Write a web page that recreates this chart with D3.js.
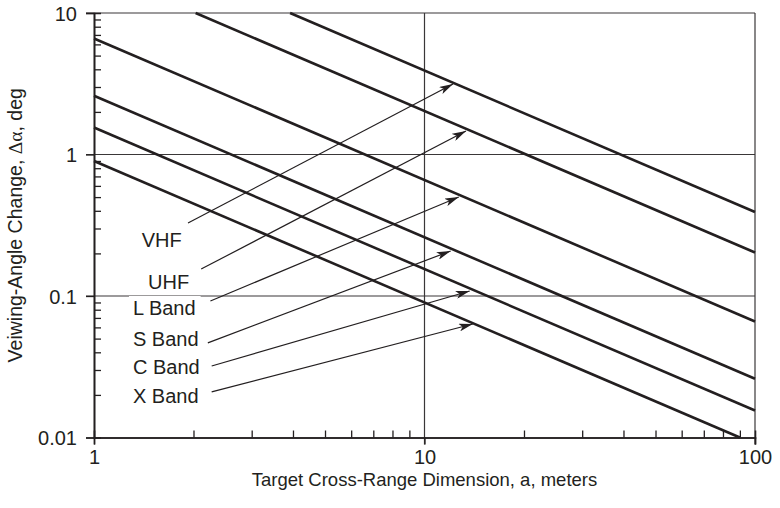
<!DOCTYPE html>
<html>
<head>
<meta charset="utf-8">
<script src="https://cdn.jsdelivr.net/npm/d3@7"></script>
<style>
  body { margin: 0; background: #fff; }
  text { font-family: "Liberation Sans", Arial, sans-serif; fill: #231f20; }
</style>
</head>
<body>
<div id="chart"></div>
<script>
// DATA
const bands = ["VHF", "UHF", "L Band", "S Band", "C Band", "X Band"];
// each band line is straight on log-log axes: start / end points
const lineStart = [[3.92, 10], [2.03, 10], [1, 6.6], [1, 2.6], [1, 1.55], [1, 0.9]];
const lineEnd = [[100, 0.392], [100, 0.203], [100, 0.066], [100, 0.026], [100, 0.0155], [90, 0.01]];
// callout arrows, tail near the label, tip on the line
const arrowTail = [[1.925, 0.328], [2.11, 0.155], [2.25, 0.0922], [2.21, 0.0466], [2.27, 0.032], [2.27, 0.021]];
const arrowTip = [[12.2, 3.15], [13.35, 1.466], [12.7, 0.501], [12.0, 0.208], [13.7, 0.1085], [14.0, 0.0634]];
const labelAt = [[1.394, 0.223], [1.457, 0.112], [1.312, 0.0734], [1.312, 0.0446], [1.312, 0.0281], [1.312, 0.0176]];

const xMajor = [1, 10, 100];
const xMajorLabels = ["1", "10", "100"];
const xMinor = [2, 3, 4, 5, 6, 7, 8, 9, 20, 30, 40, 50, 60, 70, 80, 90];
const yMajor = [0.01, 0.1, 1, 10];
const yMajorLabels = ["0.01", "0.1", "1", "10"];
const yMinor = [0.02, 0.03, 0.04, 0.05, 0.06, 0.07, 0.08, 0.09,
                0.2, 0.3, 0.4, 0.5, 0.6, 0.7, 0.8, 0.9,
                2, 3, 4, 5, 6, 7, 8, 9];

// CONSTANTS
const width = 780, height = 508;
const margin = {top: 13, right: 25, bottom: 70.5, left: 94};
const ink = "#231f20";

// SCALES
const xScale = d3.scaleLog()
    .domain([1, 100])
    .range([margin.left, width - margin.right]);

const yScale = d3.scaleLog()
    .domain([0.01, 10])
    .range([height - margin.bottom, margin.top]);

// SVG
const svg = d3.select("#chart")
    .append("svg")
    .attr("width", width)
    .attr("height", height);

const defs = svg.append("defs");
defs.append("marker")
    .attr("id", "head")
    .attr("viewBox", "0 0 14 8")
    .attr("refX", 14)
    .attr("refY", 4)
    .attr("markerWidth", 14)
    .attr("markerHeight", 8)
    .attr("markerUnits", "userSpaceOnUse")
    .attr("orient", "auto")
    .append("path")
    .attr("d", "M0,0 L14,4 L0,8 L3.5,4 Z")
    .attr("fill", ink);

// GRID (inner lines + frame top / right)
const grid = svg.append("g").attr("stroke", "#3a3738").attr("stroke-width", 1.2);
grid.selectAll("line.h")
    .data([0.1, 1, 10])
    .join("line")
    .attr("class", "h")
    .attr("x1", xScale(1) - 8)
    .attr("x2", xScale(100))
    .attr("y1", d => yScale(d))
    .attr("y2", d => yScale(d));
grid.selectAll("line.v")
    .data([10, 100])
    .join("line")
    .attr("class", "v")
    .attr("x1", d => xScale(d))
    .attr("x2", d => xScale(d))
    .attr("y1", yScale(10))
    .attr("y2", yScale(0.01) + 7);

// AXES
const xAxis = d3.axisBottom(xScale)
    .tickValues(xMajor)
    .tickFormat((d, i) => xMajorLabels[i])
    .tickSize(7)
    .tickPadding(5);
const xMinorAxis = d3.axisTop(xScale).tickValues(xMinor).tickFormat("").tickSize(7);

const yAxis = d3.axisLeft(yScale)
    .tickValues(yMajor)
    .tickFormat((d, i) => yMajorLabels[i])
    .tickSize(8)
    .tickPadding(9);
const yMinorAxis = d3.axisRight(yScale).tickValues(yMinor).tickFormat("").tickSize(7);

const xAxisGroup = svg.append("g")
    .attr("transform", `translate(0, ${yScale(0.01)})`)
    .call(xAxis);
svg.append("g")
    .attr("transform", `translate(0, ${yScale(0.01)})`)
    .call(xMinorAxis);
const yAxisGroup = svg.append("g")
    .attr("transform", `translate(${xScale(1)}, 0)`)
    .call(yAxis);
svg.append("g")
    .attr("transform", `translate(${xScale(1)}, 0)`)
    .call(yMinorAxis);

svg.selectAll(".domain").attr("stroke", ink).attr("stroke-width", 1.6);
svg.selectAll(".tick line").attr("stroke", ink).attr("stroke-width", 1.3);
svg.selectAll(".tick text")
    .style("font-family", "'Liberation Sans', Arial, sans-serif")
    .style("font-size", "20px")
    .attr("fill", ink);
yAxisGroup.selectAll(".tick text").attr("dy", "0.36em");

// BAND LINES
svg.selectAll("line.band")
    .data(bands)
    .join("line")
    .attr("class", "band")
    .attr("x1", (d, i) => xScale(lineStart[i][0]))
    .attr("y1", (d, i) => yScale(lineStart[i][1]))
    .attr("x2", (d, i) => xScale(lineEnd[i][0]))
    .attr("y2", (d, i) => yScale(lineEnd[i][1]))
    .attr("stroke", ink)
    .attr("stroke-width", 2.6);

// LABELS with white backing
const labels = svg.selectAll("g.label")
    .data(bands)
    .join("g")
    .attr("class", "label");
labels.append("text")
    .attr("x", (d, i) => xScale(labelAt[i][0]))
    .attr("y", (d, i) => yScale(labelAt[i][1]))
    .style("font-size", "20px")
    .text(d => d);
labels.each(function() {
    const g = d3.select(this);
    const b = g.select("text").node().getBBox();
    g.insert("rect", "text")
        .attr("x", b.x - 4)
        .attr("y", b.y - 1)
        .attr("width", b.width + 9)
        .attr("height", b.height + 1)
        .attr("fill", "#fff");
});

// ARROWS
svg.selectAll("line.arrow")
    .data(bands)
    .join("line")
    .attr("class", "arrow")
    .attr("x1", (d, i) => xScale(arrowTail[i][0]))
    .attr("y1", (d, i) => yScale(arrowTail[i][1]))
    .attr("x2", (d, i) => xScale(arrowTip[i][0]))
    .attr("y2", (d, i) => yScale(arrowTip[i][1]))
    .attr("stroke", ink)
    .attr("stroke-width", 1.2)
    .attr("marker-end", "url(#head)");

// AXIS TITLES
svg.append("text")
    .attr("x", (xScale(1) + xScale(100)) / 2)
    .attr("y", 486)
    .attr("text-anchor", "middle")
    .style("font-size", "18.5px")
    .text("Target Cross-Range Dimension, a, meters");

const yTitle = svg.append("text")
    .attr("transform", `translate(22, ${(yScale(0.01) + yScale(10)) / 2}) rotate(-90)`)
    .attr("text-anchor", "middle")
    .style("font-size", "19.5px");
yTitle.append("tspan").text("Veiwing-Angle Change, ");
yTitle.append("tspan").style("font-family", "'Liberation Serif', 'Times New Roman', serif").text("Δα");
yTitle.append("tspan").text(", deg");
</script>
</body>
</html>
